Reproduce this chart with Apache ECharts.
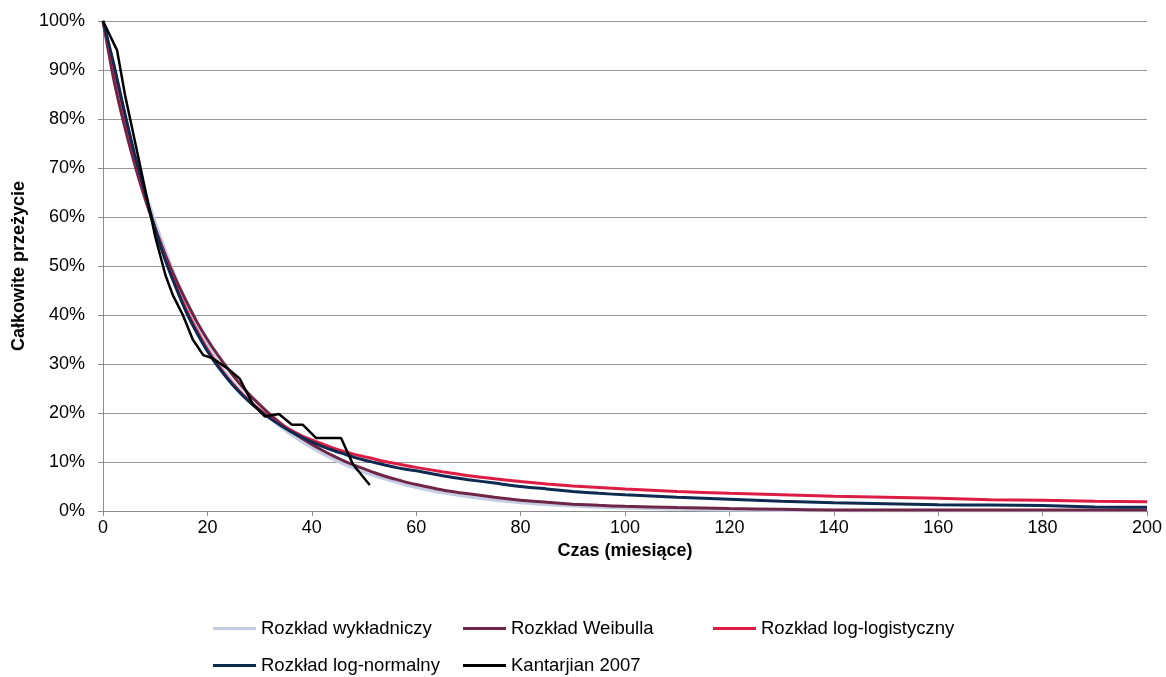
<!DOCTYPE html>
<html>
<head>
<meta charset="utf-8">
<script src="https://cdn.jsdelivr.net/npm/echarts@6/dist/echarts.min.js"></script>
<style>
html,body{margin:0;padding:0;background:#fff;}
#chart{width:1166px;height:677px;}
</style>
</head>
<body>
<div id="chart"></div>
<script>
// months at which the fitted model curves are sampled
const modelMonths = [0,2,4,6,8,10,12,14,16,18,20,22,24,26,28,30,32,34,36,38,40,42,44,46,48,50,52,54,56,58,60,
  65,70,75,80,85,90,95,100,110,120,130,140,150,160,170,180,190,200];

const expValues = [100,90,81,73,65.5,59,53,47.5,42.5,38,34,30.5,27.5,25,22.7,20.7,18.9,17.2,15.6,14.2,12.9,11.7,10.6,9.6,8.7,7.9,7.2,6.5,5.9,5.3,4.8,
  3.7,2.9,2.2,1.7,1.3,1.0,0.75,0.6,0.35,0.2,0.1,0.05,0,0,0,0,0,0];

const weibullValues = [100,88.4,79.1,71,63.9,57.7,52.1,47.1,42.7,38.6,35,31.8,28.9,26.2,23.8,21.7,19.7,17.9,16.3,14.9,13.6,12.4,11.3,10.3,9.4,8.6,7.8,7.1,6.5,5.9,5.4,
  4.3,3.5,2.8,2.2,1.8,1.4,1.15,0.95,0.7,0.5,0.35,0.2,0.2,0.2,0.2,0.2,0.2,0.2];

const logLogisticValues = [100,91,81.5,72.5,64.5,57.5,51.3,45.8,41,36.8,33,29.8,27,24.6,22.5,20.7,19.1,17.7,16.5,15.4,14.5,13.7,12.9,12.2,11.6,11.1,10.6,10.1,9.7,9.3,8.9,
  8.0,7.2,6.6,6.0,5.5,5.1,4.8,4.5,4.0,3.6,3.3,3.0,2.8,2.6,2.3,2.2,2.0,1.9];

const logNormalValues = [100,91.5,82,73,65,57.5,51,45.5,40.5,36.3,32.6,29.5,26.8,24.4,22.3,20.5,18.9,17.5,16.2,15.1,14.1,13.2,12.4,11.7,11.0,10.4,9.9,9.4,8.9,8.5,8.2,
  7.2,6.4,5.7,5.0,4.5,4.0,3.6,3.3,2.8,2.4,2.0,1.7,1.5,1.3,1.2,1.1,0.8,0.75];

// Kaplan-Meier data (Kantarjian 2007)
const kantarjianMonths = [0,2.7,4.2,6,8,10,12,13.4,15.3,17.2,19.2,20.9,24,26.2,28.7,31,33.7,36.2,38.3,40.8,45.6,47.9,51.1];
const kantarjianValues = [100,94,85,76,66,56,48,44,40,35,31.8,31.2,29,27,21.8,19.3,19.8,17.6,17.6,14.9,14.9,9.5,5.3];

const seriesNames = ['Rozkład wykładniczy','Rozkład Weibulla','Rozkład log-logistyczny','Rozkład log-normalny','Kantarjian 2007'];
const seriesColors = ['#c4cce4','#6f2545','#dc1c43','#0d2a50','#000000'];

const xTicks = {min:0,max:200,interval:20};
const yTicks = {min:0,max:100,interval:10};

function pairs(xs, ys){ return xs.map((x,i)=>[x, ys[i]]); }

const dataSets = [
  pairs(modelMonths, expValues),
  pairs(modelMonths, weibullValues),
  pairs(modelMonths, logLogisticValues),
  pairs(modelMonths, logNormalValues),
  pairs(kantarjianMonths, kantarjianValues)
];

const FONT = 'Liberation Sans';
const chart = echarts.init(document.getElementById('chart'), null, {renderer:'canvas'});

const legendPos = [
  {left:213, top:619},
  {left:463, top:619},
  {left:713, top:619},
  {left:213, top:656},
  {left:463, top:656}
];

const option = {
  animation:false,
  backgroundColor:'#ffffff',
  grid:{left:103, right:19, top:21, bottom:166, containLabel:false},
  legend: seriesNames.map((n,i)=>({
    data:[n],
    left:legendPos[i].left,
    top:legendPos[i].top,
    icon:'rect',
    itemWidth:43,
    itemHeight:3,
    padding:0,
    selectedMode:false,
    textStyle:{fontFamily:FONT, fontSize:18.5, color:'#000'}
  })),
  xAxis:{
    type:'value',
    min:xTicks.min, max:xTicks.max, interval:xTicks.interval,
    name:'Czas (miesiące)',
    nameLocation:'middle',
    nameGap:30,
    nameTextStyle:{fontFamily:FONT, fontSize:18, fontWeight:'bold', color:'#000'},
    axisLine:{show:true, lineStyle:{color:'#8c8c8c', width:1}},
    axisTick:{show:true, length:5, lineStyle:{color:'#8c8c8c'}},
    axisLabel:{fontFamily:FONT, fontSize:18, color:'#000', margin:8},
    splitLine:{show:false}
  },
  yAxis:{
    type:'value',
    min:yTicks.min, max:yTicks.max, interval:yTicks.interval,
    name:'Całkowite przeżycie',
    nameLocation:'middle',
    nameGap:74,
    nameTextStyle:{fontFamily:FONT, fontSize:18, fontWeight:'bold', color:'#000'},
    axisLine:{show:true, lineStyle:{color:'#8c8c8c', width:1}},
    axisTick:{show:true, length:5, lineStyle:{color:'#8c8c8c'}},
    axisLabel:{fontFamily:FONT, fontSize:18, color:'#000', margin:18, formatter:'{value}%'},
    splitLine:{show:true, lineStyle:{color:'#999999', width:1}}
  },
  series: seriesNames.map((n,i)=>({
    name:n,
    type:'line',
    data:dataSets[i],
    showSymbol:false,
    symbol:'none',
    smooth: i<4 ? 0.2 : false,
    color:seriesColors[i],
    lineStyle:{color:seriesColors[i], width: i===4 ? 2.5 : 3},
    z: 2+i
  }))
};
chart.setOption(option);
</script>
</body>
</html>
